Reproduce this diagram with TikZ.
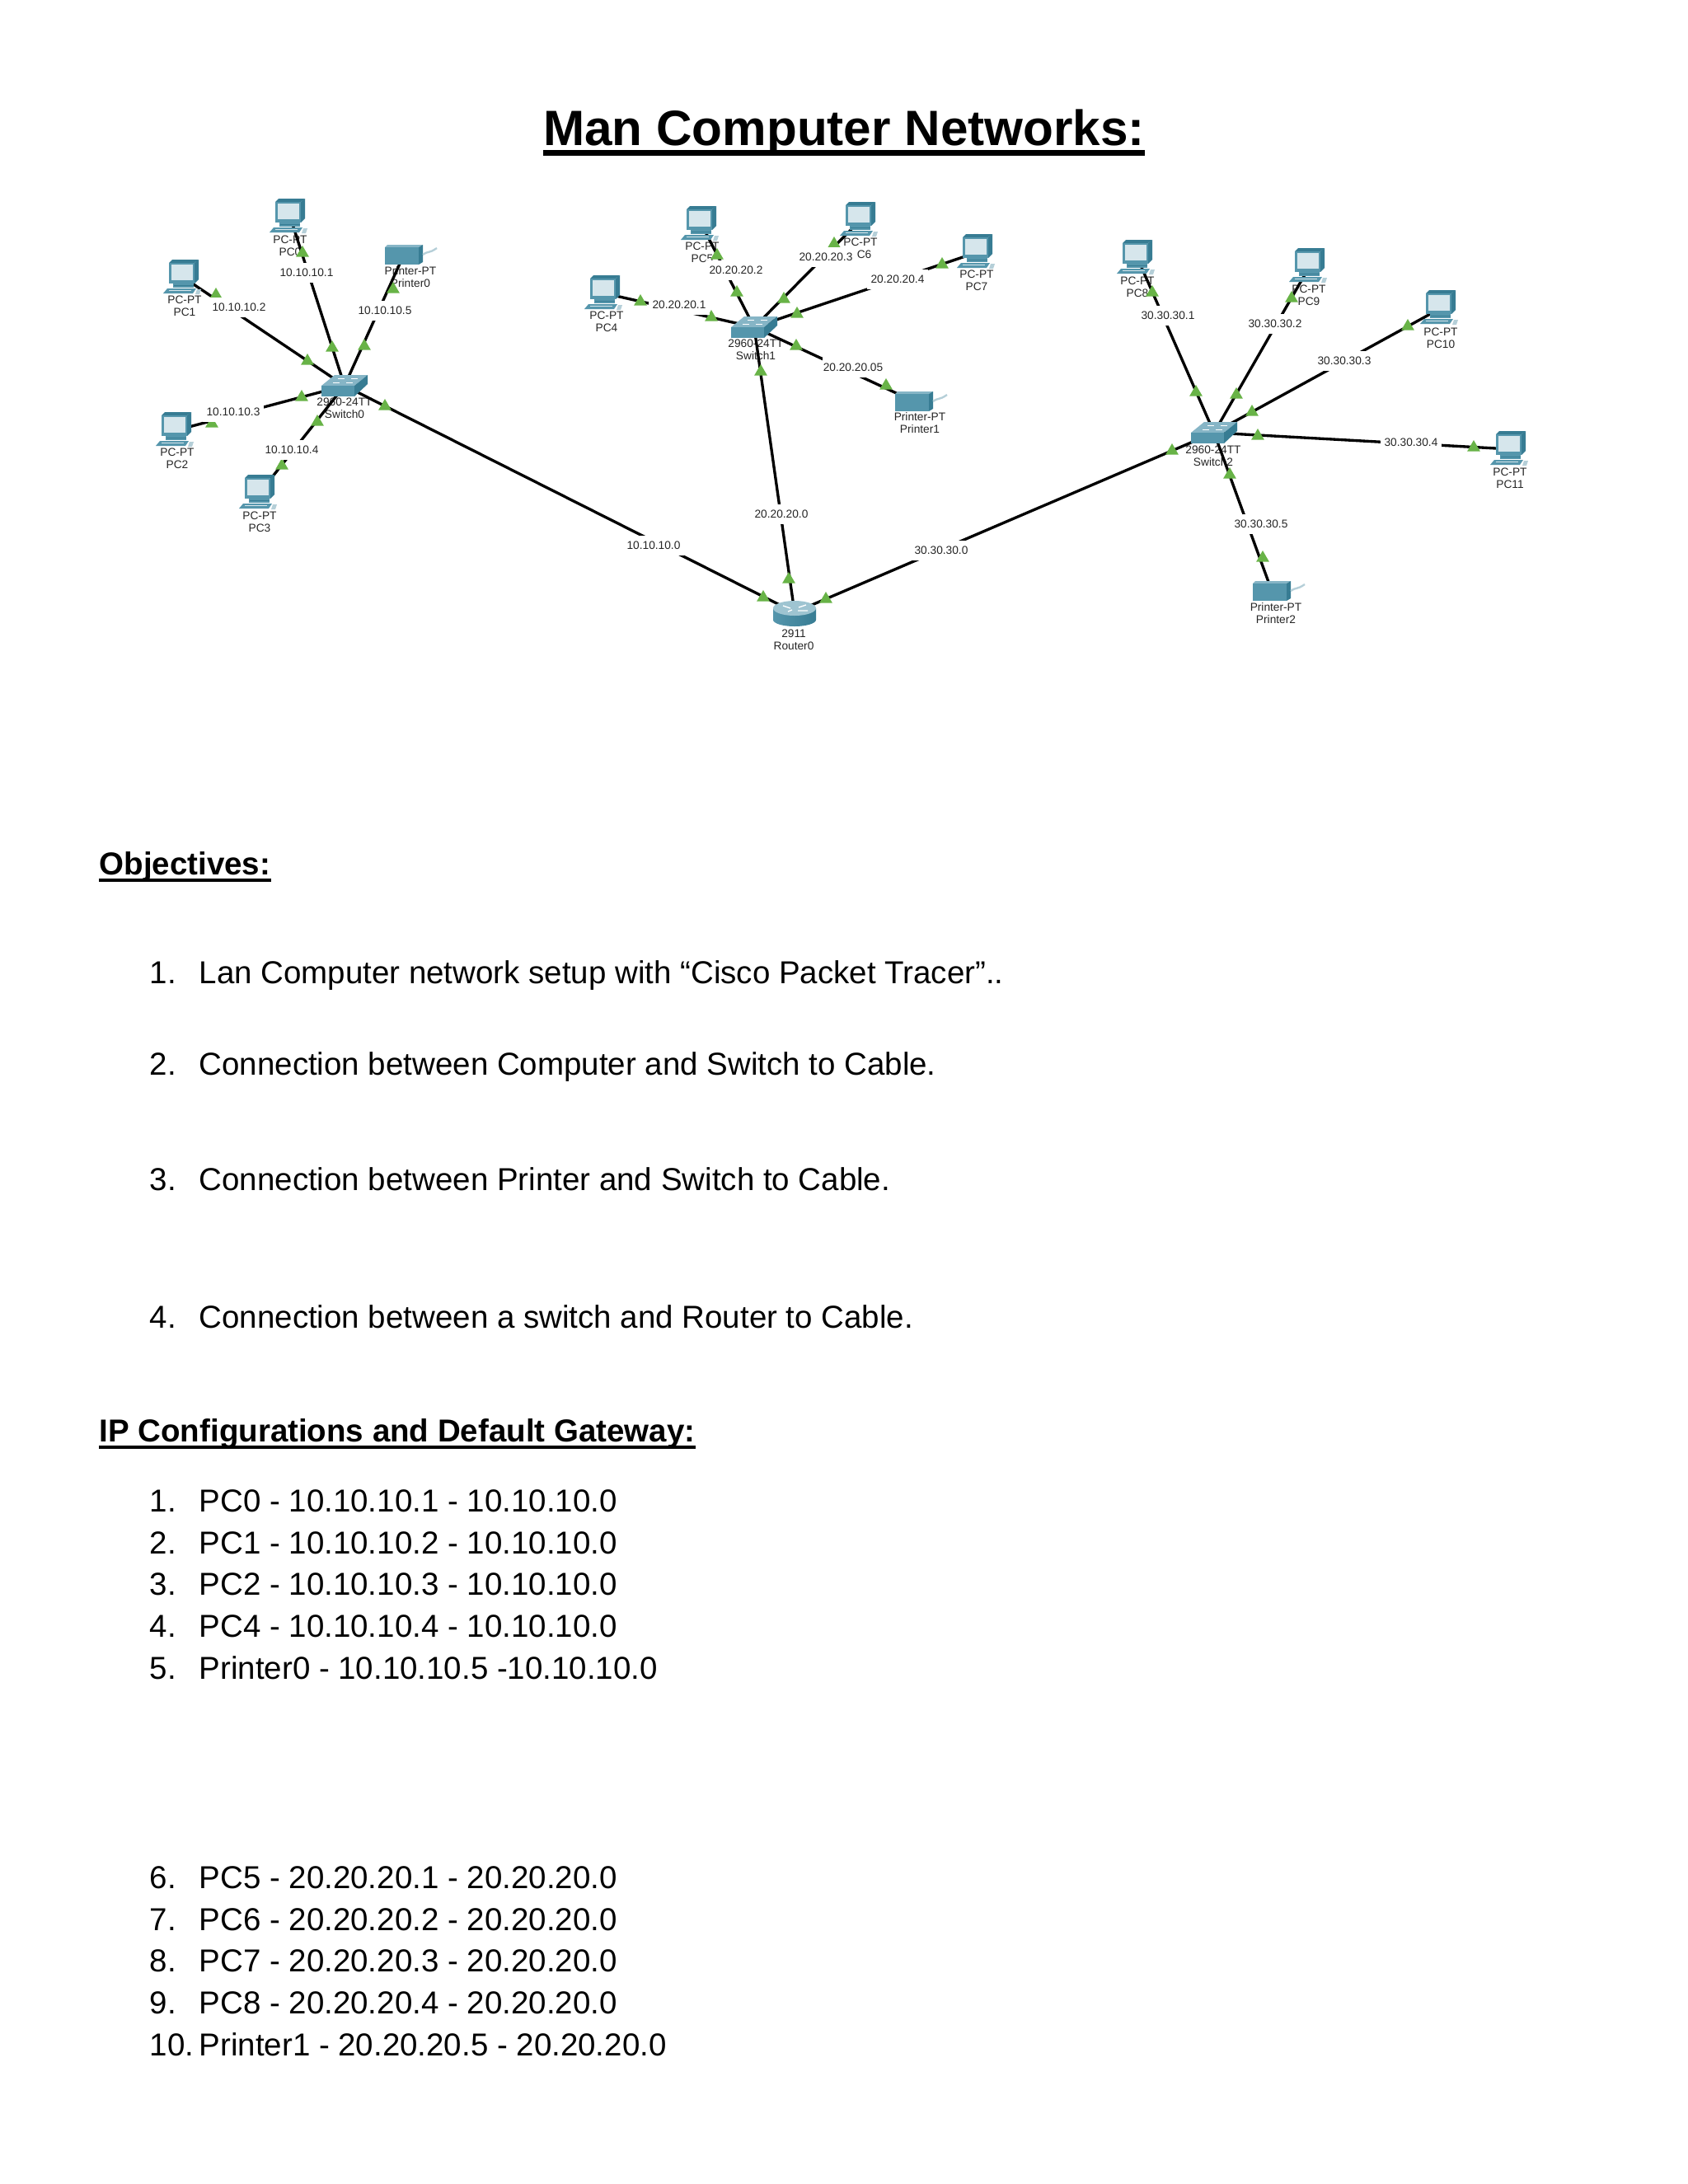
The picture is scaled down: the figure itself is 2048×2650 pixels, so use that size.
\documentclass[tikz,border=0pt]{standalone}
\usepackage{fontspec}
\setmainfont{Liberation Sans}
\usetikzlibrary{shapes.geometric}
\definecolor{framecol}{HTML}{5596AC}
\definecolor{darkcol}{HTML}{377C93}
\definecolor{screencol}{HTML}{D6E6EC}
\definecolor{topcol}{HTML}{86B5C6}
\definecolor{linkgreen}{HTML}{68B347}
\definecolor{cablecol}{HTML}{B5CFD8}
\begin{document}
\begin{tikzpicture}[
    x=0.29883pt, y=-0.29883pt,
    devnode/.style={coordinate},
    devlabel/.style={align=center,inner sep=0pt,text=black!85,
                     font=\fontsize{4.1}{4.5}\selectfont},
    iplabel/.style={fill=white,inner sep=0pt,minimum width=22pt,minimum height=7.4pt,
                    text=black!85,font=\fontsize{4.1}{4.5}\selectfont},
    link/.style={line width=1pt,black},
    updot/.style={regular polygon,regular polygon sides=3,fill=linkgreen,
                  inner sep=0pt,minimum size=5.4pt},
    headtext/.style={anchor=base west,inner sep=0pt,font=\fontsize{11.5}{15}\selectfont\bfseries},
    itemtext/.style={anchor=base west,inner sep=0pt,font=\fontsize{11.5}{15}\selectfont},
    headrule/.style={line width=1.2pt},
    titlerule/.style={line width=2pt},
    pcicon/.pic={
      \fill[darkcol] (-18,-18) -- (-14,-22) -- (18,-22) -- (13,-18) -- cycle;
      \fill[darkcol] (13,-18) -- (18,-22) -- (18,2) -- (13,7) -- cycle;
      \fill[framecol] (-18,-18) rectangle (13,7);
      \fill[screencol] (-15,-16) rectangle (11,3);
      \fill[framecol] (-13,7) rectangle (12,12);
      \fill[darkcol] (-12,9) rectangle (12,10);
      \fill[framecol] (-20,13) -- (15,13) -- (11,19) -- (-25,19) -- cycle;
      \fill[screencol] (-18,15) rectangle (9,16);
      \fill[cablecol] (16,14) -- (21,14) -- (19,20) -- (14,20) -- cycle;
    },
    swicon/.pic={
      \fill[topcol] (-28,0) -- (-12,-13) -- (28,-13) -- (12,0) -- cycle;
      \fill[framecol] (-28,0) rectangle (12,13);
      \fill[darkcol] (12,0) -- (28,-13) -- (28,-2) -- (12,13) -- cycle;
      \draw[white,line width=0.3pt] (-14,-4) -- (-6,-4) (2,-4) -- (10,-4)
        (-8,-9) -- (0,-9) (8,-9) -- (16,-9);
    },
    prnicon/.pic={
      \fill[topcol] (-23,-9) -- (-20,-12) -- (23,-12) -- (18,-9) -- cycle;
      \fill[framecol] (-23,-9) rectangle (18,12);
      \fill[darkcol] (18,-9) -- (23,-12) -- (23,9) -- (18,12) -- cycle;
      \draw[cablecol,line width=0.7pt] (23,0) .. controls (30,-5) and (30,-1) .. (40,-8);
    },
    rticon/.pic={
      \shade[left color=framecol,middle color=screencol!80!white,right color=darkcol]
        (-26,-5) -- (-26,9) arc[start angle=180,end angle=360,x radius=26,y radius=-8]
        -- (26,-5) -- cycle;
      \fill[topcol!80!white] (0,-5) ellipse[x radius=26,y radius=9];
      \draw[white,line width=0.4pt] (-14,-8) -- (-5,-5) (5,-6) -- (14,-9)
        (-8,-1) -- (-3,-3) (4,-2) -- (16,-2);
    }]

  % --- foglio ---
  \fill[white] (0,0) rectangle (2048,2650);
  \useasboundingbox (0,0) rectangle (2048,2650);

  % --- titolo ---
  \node[inner sep=0pt,anchor=base,font=\fontsize{18}{22}\selectfont\bfseries] (title)
    at (1024,176) {Man Computer Networks:};
  \draw[titlerule] ([yshift=-2.85pt]title.base west) -- ([yshift=-2.85pt]title.base east);

  % --- i dispositivi ---
  \foreach \n/\x/\y/\lx/\ly in {PC0/352/263/352/298,PC1/223/337/224/371,PC2/214/522/215/556,
      PC3/315/598/315/633,PC4/734/356/736/390,PC5/851/272/852/306,PC6/1044/267/1044/301,
      PC7/1186/306/1185/340,PC8/1380/313/1380/348,PC9/1589/323/1588/358,
      PC10/1748/374/1748/410,PC11/1833/545/1832/580}{
    \node[devnode] (\n) at (\x,\y) {};
    \node[devlabel] (lab\n) at (\lx,\ly) {PC-PT\\\n};
  }
  \foreach \n/\x/\y/\lx/\ly in {Printer0/490/309/498/336,Printer1/1109/487/1116/513,
      Printer2/1543/717/1548/744}{
    \node[devnode] (\n) at (\x,\y) {};
    \node[devlabel] (lab\n) at (\lx,\ly) {Printer-PT\\\n};
  }
  \foreach \n/\x/\y/\lx/\ly in {Switch0/418/468/418/495,Switch1/915/397/917/424,
      Switch2/1473/525/1472/553}{
    \node[devnode] (\n) at (\x,\y) {};
    \node[devlabel] (lab\n) at (\lx,\ly) {2960-24TT\\\n};
  }
  \node[devnode] (Router0) at (964,743) {};
  \node[devlabel] (labRouter0) at (963,776) {2911\\Router0};

  % --- i collegamenti ---
  \foreach \a/\b in {PC0/Switch0,PC1/Switch0,PC2/Switch0,PC3/Switch0,Printer0/Switch0,
      PC4/Switch1,PC5/Switch1,PC6/Switch1,PC7/Switch1,Printer1/Switch1,
      PC8/Switch2,PC9/Switch2,PC10/Switch2,PC11/Switch2,Printer2/Switch2,
      Switch0/Router0,Switch1/Router0,Switch2/Router0}{
    \draw[link] (\a) -- (\b);
  }

  % --- le icone ---
  \foreach \n in {PC0,PC1,PC2,PC3,PC4,PC5,PC6,PC7,PC8,PC9,PC10,PC11}{
    \pic at (\n) {pcicon};
  }
  \foreach \n in {Printer0,Printer1,Printer2}{
    \pic at (\n) {prnicon};
  }
  \foreach \n in {Switch0,Switch1,Switch2}{
    \pic at (\n) {swicon};
  }
  \pic at (Router0) {rticon};

  % --- i triangoli verdi ---
  \foreach \x/\y [count=\i] in {367/307,403/422,262/358,373/438,257/514,366/482,342/565,385/512,
      477/351,442/420,467/493,926/725,957/703,1002/727,
      777/366,863/385,870/310,894/355,1012/296,951/363,1143/321,967/381,1075/468,966/420,923/451,
      1398/355,1451/476,1567/362,1500/479,1708/396,1519/500,1788/543,1526/529,1532/677,1492/576,
      1422/547}{
    \node[updot] (tri\i) at (\x,\y) {};
  }

  % --- gli indirizzi sui collegamenti ---
  \foreach \x/\y/\t [count=\i] in {372/331/10.10.10.1,290/373/10.10.10.2,283/500/10.10.10.3,
      354/546/10.10.10.4,467/377/10.10.10.5,793/662/10.10.10.0,
      824/370/20.20.20.1,893/328/20.20.20.2,1002/312/20.20.20.3,1089/339/20.20.20.4,
      1035/446/20.20.20.05,948/624/20.20.20.0,
      1417/383/30.30.30.1,1547/393/30.30.30.2,1631/438/30.30.30.3,1712/537/30.30.30.4,
      1530/636/30.30.30.5,1142/668/30.30.30.0}{
    \node[iplabel] (ip\i) at (\x,\y) {\t};
  }

  % --- i testi ---
  \node[headtext] (objhead) at (120,1061) {Objectives:};
  \draw[headrule] ([yshift=-2.1pt]objhead.base west) -- ([yshift=-2.1pt]objhead.base east);
  \foreach \y/\num/\t in {
      1193/1./Lan Computer network setup with “Cisco Packet Tracer”..,
      1304/2./Connection between Computer and Switch to Cable.,
      1444/3./Connection between Printer and Switch to Cable.,
      1611/4./Connection between a switch and Router to Cable.,
      1834/1./PC0 - 10.10.10.1 - 10.10.10.0,
      1885/2./PC1 - 10.10.10.2 - 10.10.10.0,
      1935/3./PC2 - 10.10.10.3 - 10.10.10.0,
      1986/4./PC4 - 10.10.10.4 - 10.10.10.0,
      2037/5./Printer0 - 10.10.10.5 -10.10.10.0,
      2291/6./PC5 - 20.20.20.1 - 20.20.20.0,
      2342/7./PC6 - 20.20.20.2 - 20.20.20.0,
      2392/8./PC7 - 20.20.20.3 - 20.20.20.0,
      2443/9./PC8 - 20.20.20.4 - 20.20.20.0,
      2494/10./Printer1 - 20.20.20.5 - 20.20.20.0}{
    \node[itemtext] (num\y) at (181,\y) {\num};
    \node[itemtext] (item\y) at (241,\y) {\t};
  }
  \node[headtext] (iphead) at (120,1749) {IP Configurations and Default Gateway:};
  \draw[headrule] ([yshift=-2.1pt]iphead.base west) -- ([yshift=-2.1pt]iphead.base east);

\end{tikzpicture}
\end{document}
